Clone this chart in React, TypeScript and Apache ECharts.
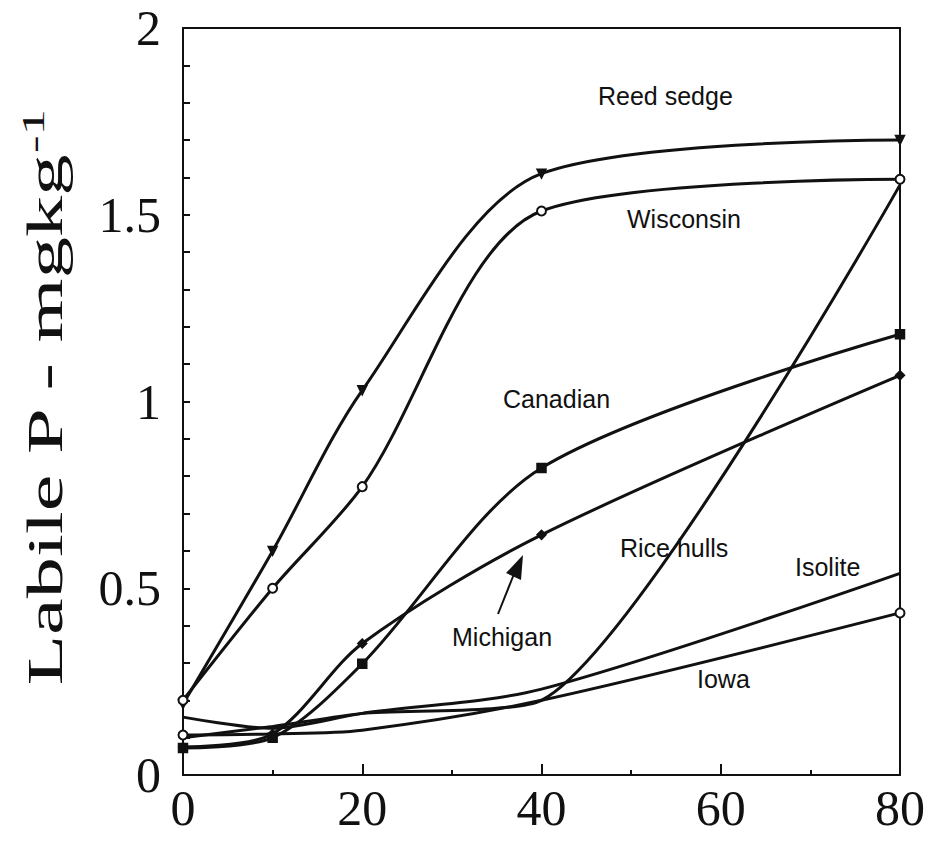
import React, { useEffect, useRef } from "react";
import * as echarts from "echarts";

const X_DAYS = [0, 10, 20, 40, 80];
const REED_SEDGE = [0.19, 0.6, 1.03, 1.61, 1.7];
const WISCONSIN = [0.2, 0.5, 0.772, 1.51, 1.595];
const CANADIAN = [0.072, 0.1, 0.298, 0.822, 1.18];
const MICHIGAN = [0.075, 0.11, 0.352, 0.643, 1.07];
const RICE_HULLS = [0.1, 0.13, 0.165, 0.2, 1.58];
const ISOLITE = [0.155, 0.125, 0.165, 0.23, 0.54];
const IOWA = [0.107, 0.11, 0.12, 0.2, 0.434];
const Y_TICKS = [0, 0.5, 1, 1.5, 2];
const X_TICKS = [0, 20, 40, 60, 80];

const SERIF = "'Liberation Serif', 'Times New Roman', serif";
const SANS = "'Liberation Sans', Arial, sans-serif";

function pairs(ys: number[]) {
  return X_DAYS.map((x, i) => [x, ys[i]]);
}

export default function App() {
  const ref = useRef<HTMLDivElement>(null);
  useEffect(() => {
    if (!ref.current) return;
    const chart = echarts.init(ref.current, null, { renderer: "svg" });
    const lineStyle = { color: "#111", width: 3 };
    const base = {
      type: "line",
      smooth: 0.3,
      lineStyle,
      itemStyle: { color: "#111", borderColor: "#111", borderWidth: 1.5 },
      symbolSize: 9,
      z: 3,
    };
    const label = (text: string, x: number, y: number) => ({
      type: "text",
      x,
      y,
      style: {
        text,
        fontFamily: SANS,
        fontSize: 25,
        fill: "#111",
        textVerticalAlign: "middle",
        textAlign: "left",
      },
      z: 10,
    });
    const frameLine = { show: true, onZero: false, lineStyle: { color: "#111", width: 2 } };
    chart.setOption({
      animation: false,
      backgroundColor: "#fff",
      grid: { left: 183, right: 22, top: 28, bottom: 70, containLabel: false },
      xAxis: [
        {
          type: "value",
          min: 0,
          max: 80,
          interval: 20,
          axisLine: frameLine,
          axisTick: { show: true, inside: true, length: 11, lineStyle: { color: "#111", width: 2 } },
          minorTick: { show: true, splitNumber: 2, length: 5, lineStyle: { color: "#111", width: 2 } },
          splitLine: { show: false },
          axisLabel: {
            fontFamily: SERIF,
            fontSize: 50,
            color: "#111",
            margin: 8,
            formatter: (v: number) => (X_TICKS.includes(v) ? String(v) : ""),
          },
        },
        {
          type: "value",
          position: "top",
          min: 0,
          max: 80,
          axisLine: frameLine,
          axisTick: { show: false },
          axisLabel: { show: false },
          splitLine: { show: false },
        },
      ],
      yAxis: [
        {
          type: "value",
          min: 0,
          max: 2,
          interval: 0.5,
          axisLine: frameLine,
          axisTick: { show: true, inside: true, length: 7, lineStyle: { color: "#111", width: 2 } },
          minorTick: { show: true, splitNumber: 5, length: 7, lineStyle: { color: "#111", width: 2 } },
          splitLine: { show: false },
          axisLabel: {
            fontFamily: SERIF,
            fontSize: 50,
            color: "#111",
            margin: 22,
            formatter: (v: number) => (Y_TICKS.includes(v) ? String(v) : ""),
          },
        },
        {
          type: "value",
          position: "right",
          min: 0,
          max: 2,
          axisLine: frameLine,
          axisTick: { show: false },
          axisLabel: { show: false },
          splitLine: { show: false },
        },
      ],
      series: [
        { ...base, name: "Reed sedge", data: pairs(REED_SEDGE), symbol: "triangle", symbolRotate: 180 },
        { ...base, name: "Wisconsin", data: pairs(WISCONSIN), symbol: "emptyCircle" },
        { ...base, name: "Canadian", data: pairs(CANADIAN), symbol: "rect" },
        { ...base, name: "Michigan", data: pairs(MICHIGAN), symbol: "diamond" },
        { ...base, name: "Rice hulls", data: pairs(RICE_HULLS), symbol: "none", smooth: 0.22 },
        { ...base, name: "Isolite", data: pairs(ISOLITE), symbol: "none" },
        {
          ...base,
          name: "Iowa",
          data: pairs(IOWA).map((p, i) => ({
            value: p,
            symbol: i === 0 || i === X_DAYS.length - 1 ? "emptyCircle" : "none",
          })),
        },
      ],
      graphic: [
        label("Reed sedge", 598, 96),
        label("Wisconsin", 627, 219),
        label("Canadian", 503, 399),
        label("Rice hulls", 620, 548),
        label("Isolite", 795, 567),
        label("Michigan", 452, 637),
        label("Iowa", 697, 679),
        {
          type: "line",
          shape: { x1: 498, y1: 614, x2: 514, y2: 574 },
          style: { stroke: "#111", lineWidth: 2 },
          z: 10,
        },
        {
          type: "polygon",
          shape: { points: [[523, 555], [506, 573], [521, 580]] },
          style: { fill: "#111" },
          z: 10,
        },
        {
          type: "text",
          x: 45,
          y: 398,
          rotation: Math.PI / 2,
          scaleX: 1.65,
          style: {
            text: "{a|Labile P - mgkg}{s|-1}",
            textAlign: "center",
            textVerticalAlign: "middle",
            fill: "#111",
            rich: {
              a: { fontFamily: SERIF, fontSize: 50, fill: "#111", lineHeight: 56 },
              s: { fontFamily: SERIF, fontSize: 32, fill: "#111", verticalAlign: "top", lineHeight: 56, padding: [0, 0, 18, 0] },
            },
          },
        },
      ],
    });
    return () => chart.dispose();
  }, []);
  return (
    <div
      ref={ref}
      style={{ position: "absolute", left: 0, top: 0, width: 928, height: 845, background: "#fff" }}
    />
  );
}
